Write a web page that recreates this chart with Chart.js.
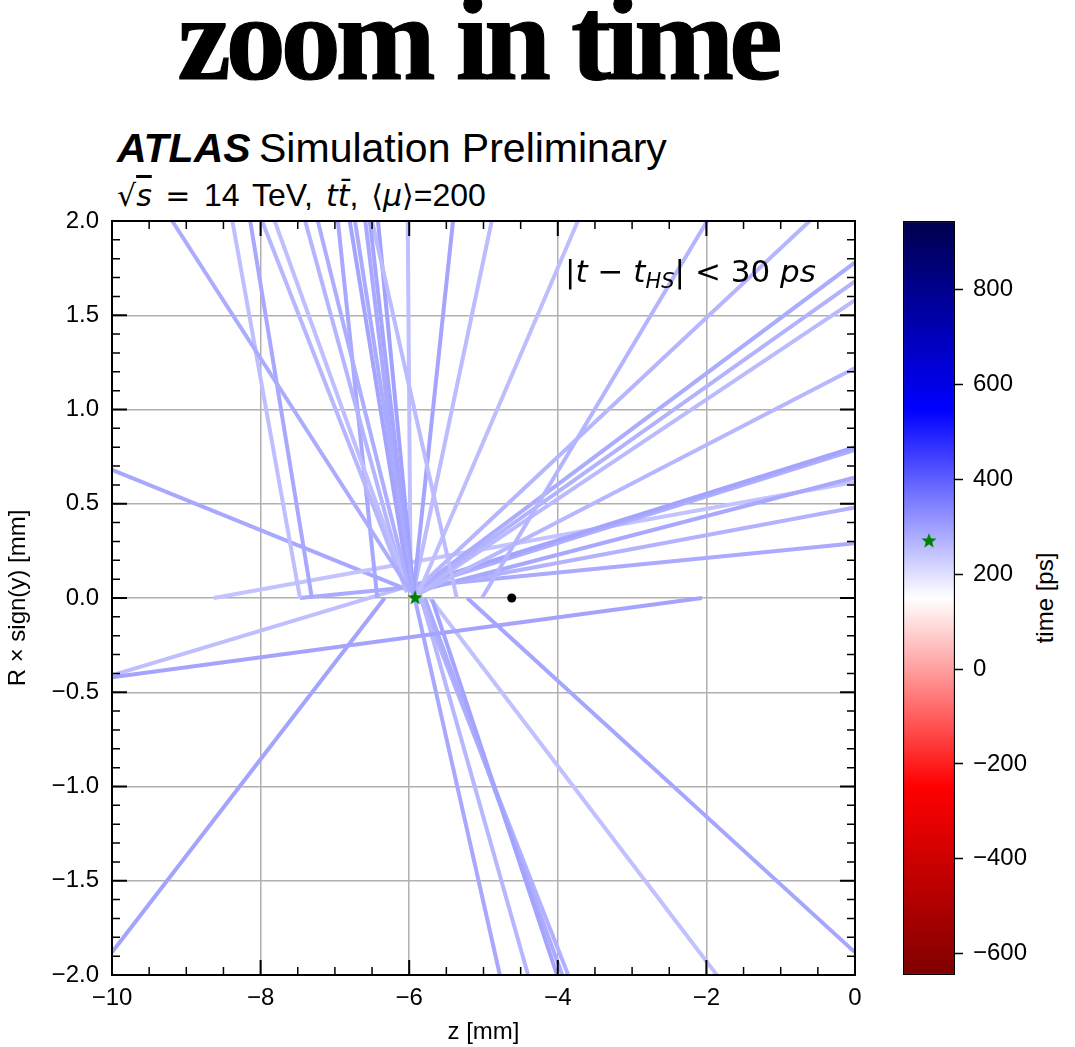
<!DOCTYPE html>
<html>
<head>
<meta charset="utf-8">
<script src="https://cdn.jsdelivr.net/npm/chart.js@4.4.1/dist/chart.umd.min.js"></script>
<style>
  body { margin: 0; background: #fff; width: 1075px; height: 1047px; position: relative; overflow: hidden;
         font-family: "Liberation Sans", Arial, sans-serif; color: #000; }
  #titulo { position: absolute; left: 0; width: 955px; top: -21px; text-align: center;
            font-family: "Liberation Serif", serif; font-weight: bold; font-size: 120px; line-height: 120px; letter-spacing: -5px;
            -webkit-text-stroke: 1.2px #000; }
  #atlas { position: absolute; left: 117px; top: 128px; font-size: 41px; line-height: 41px; white-space: nowrap; }
  #atlas b { font-style: italic; margin-right: -3px; }
  #energia { position: absolute; left: 117px; top: 179px; font-size: 32px; line-height: 32px; white-space: nowrap; word-spacing: 4px; }
  #energia .m { font-family: "DejaVu Sans", sans-serif; font-size: 30px; }
  #corte { position: absolute; left: 565px; top: 256px; font-family: "DejaVu Sans", sans-serif; font-size: 31px; line-height: 31px;
           white-space: nowrap; z-index: 2; }
  #corte sub { font-size: 21px; vertical-align: -6px; }
  #etiquetaColor { position: absolute; left: 1045px; top: 598px; font-size: 24px; white-space: nowrap;
                   transform: translate(-50%, -50%) rotate(-90deg); }
  #grafico { position: absolute; left: 0; top: 0; z-index: 1; }
  #barra { position: absolute; left: 880px; top: 0; z-index: 1; }
</style>
</head>
<body>
<div id="titulo">zoom in time</div>
<div id="atlas"><b>ATLAS</b> Simulation Preliminary</div>
<div id="energia"><span class="m">√<span style="text-decoration: overline;"><i>s</i></span> = </span>14 TeV, <span class="m"><i>t</i><i>t̄</i></span>, <span class="m">⟨<i>μ</i>⟩</span>=200</div>
<div id="corte">|<i>t</i> − <i>t</i><sub><i>HS</i></sub>| &lt; 30 <i>ps</i></div>
<div id="etiquetaColor">time [ps]</div>
<canvas id="grafico" width="880" height="1047"></canvas>
<canvas id="barra" width="195" height="1047"></canvas>
<script>
// trazas: punto de inicio (z, R) y punto final, en mm
const zInicio = [-5.99, -7.47, -7.31, -6.03, -6.02, -6.04, -5.99, -6.43, -5.99, -5.95,
                 -5.96, -5.36, -5.94, -5.98, -5.95, -5.96, -5.88, -5.02, -5.92, -6.00,
                 -5.91, -5.91, -5.88, -5.88, -5.92, -5.96, -5.85, -8.63, -5.99, -7.47,
                 -6.06, -2.06, -6.12, -6.33, -5.92, -5.83, -5.69, -5.79, -5.85, -5.72, -5.22];
const rInicio = [0.04, 0.00, 0.00, 0.03, 0.04, 0.04, 0.03, 0.00, 0.04, 0.03,
                 0.03, 0.00, 0.03, 0.03, 0.00, 0.00, 0.02, 0.00, 0.04, 0.04,
                 0.04, 0.03, 0.03, 0.02, 0.07, 0.05, 0.04, 0.00, 0.04, 0.00,
                 0.05, 0.00, 0.05, 0.00, -0.01, -0.01, -0.01, 0.00, 0.00, 0.00, 0.00];
const zFin = [-9.19, -8.38, -8.14, -7.98, -7.81, -7.40, -7.23, -6.96, -6.80, -6.73,
              -6.53, -6.50, -6.42, -6.02, -5.41, -4.89, -3.73, -1.99, -0.61, -6.59,
              0, 0, 0, 0, 0, 0, 0, 0, 0, 0,
              -10, -10, -10, -10, -4.78, -4.40, -4.01, -3.94, -3.86, -1.86, 0];
const rFin = [2, 2, 2, 2, 2, 2, 2, 2, 2, 2,
              2, 2, 2, 2, 2, 2, 2, 2, 2, 2,
              1.78, 1.68, 1.58, 1.22, 0.80, 0.785, 0.64, 0.615, 0.48, 0.29,
              0.68, -0.42, -0.41, -1.88, -2, -2, -2, -2, -2, -2, -1.88];
// tiempo de cada traza en ps
const tiempos = [280, 250, 285, 262, 250, 266, 276, 286, 292, 282,
                 290, 256, 296, 248, 290, 254, 252, 266, 264, 284,
                 280, 270, 258, 262, 292, 276, 286, 244, 270, 282,
                 286, 292, 250, 292, 286, 262, 292, 280, 272, 246, 288];

// vertice hard-scatter y el otro vertice
const zHS = -5.92, rHS = 0.0, tHS = 270;
const zOtro = -4.62, rOtro = 0.0;

// rango de la barra de color
const vMin = -645, vMax = 945;
const ticksColor = [-600, -400, -200, 0, 200, 400, 600, 800];

// mapa seismic invertido
const seismic = [[0, 0, 0.3], [0, 0, 1], [1, 1, 1], [1, 0, 0], [0.5, 0, 0]];
function colorMapa(p) {
  p = Math.min(1, Math.max(0, 1 - p));
  const s = p * 4, i = Math.min(3, Math.floor(s)), f = s - i;
  const a = seismic[i], b = seismic[i + 1];
  const c = a.map((v, k) => Math.round(255 * (v + (b[k] - v) * f)));
  return 'rgb(' + c[0] + ',' + c[1] + ',' + c[2] + ')';
}
function colorTiempo(t) { return colorMapa((t - vMin) / (vMax - vMin)); }

function menos(txt) { return String(txt).replace('-', '\u2212'); }

// estrella rellena para los vertices
function estrella(r, color) {
  const c = document.createElement('canvas');
  c.width = c.height = 2 * r + 2;
  const g = c.getContext('2d');
  g.fillStyle = color;
  g.beginPath();
  for (let k = 0; k < 10; k++) {
    const ang = -Math.PI / 2 + k * Math.PI / 5;
    const rr = k % 2 ? r * 0.42 : r;
    g.lineTo(r + 1 + rr * Math.cos(ang), r + 1 + rr * Math.sin(ang));
  }
  g.closePath();
  g.fill();
  return c;
}
const estrellaVerde = estrella(8, 'green');

const fuente = { family: '"Liberation Sans", Arial, sans-serif', size: 24 };

const datasets = [
  { data: [{ x: zHS, y: rHS }], pointStyle: estrellaVerde, showLine: false },
  { data: [{ x: zOtro, y: rOtro }], pointRadius: 4.5, pointBackgroundColor: '#000', pointBorderWidth: 0, showLine: false }
];
tiempos.forEach((t, i) => {
  datasets.push({
    data: [{ x: zInicio[i], y: rInicio[i] }, { x: zFin[i], y: rFin[i] }],
    showLine: true,
    borderColor: colorTiempo(t),
    borderWidth: 4,
    pointRadius: 0,
    clip: 0
  });
});

// marco y ticks hacia dentro en los cuatro lados
const marco = {
  id: 'marco',
  afterDatasetsDraw(chart) {
    const { ctx, chartArea: a, scales: { x, y } } = chart;
    ctx.save();
    ctx.strokeStyle = '#000';
    for (let k = 0; k <= 20; k++) {
      const px = x.getPixelForValue(-10 + k * 0.5);
      const largo = k % 4 === 0 ? 15 : 8;
      ctx.lineWidth = k % 4 === 0 ? 2 : 1.5;
      ctx.beginPath();
      ctx.moveTo(px, a.bottom); ctx.lineTo(px, a.bottom - largo);
      ctx.moveTo(px, a.top); ctx.lineTo(px, a.top + largo);
      ctx.stroke();
    }
    for (let k = 0; k <= 40; k++) {
      const py = y.getPixelForValue(-2 + k * 0.1);
      const largo = k % 5 === 0 ? 15 : 8;
      ctx.lineWidth = k % 5 === 0 ? 2 : 1.5;
      ctx.beginPath();
      ctx.moveTo(a.left, py); ctx.lineTo(a.left + largo, py);
      ctx.moveTo(a.right, py); ctx.lineTo(a.right - largo, py);
      ctx.stroke();
    }
    ctx.lineWidth = 2;
    ctx.strokeRect(a.left, a.top, a.right - a.left, a.bottom - a.top);
    ctx.restore();
  }
};

new Chart('grafico', {
  type: 'scatter',
  data: { datasets: datasets },
  options: {
    responsive: false,
    animation: false,
    layout: { padding: { top: 221, right: 25, left: 0, bottom: 0 } },
    plugins: { legend: { display: false }, tooltip: { enabled: false } },
    scales: {
      x: {
        type: 'linear', min: -10, max: 0,
        ticks: { stepSize: 2, color: '#000', font: fuente, padding: 9, maxRotation: 0, callback: v => menos(v) },
        grid: { color: '#b0b0b0', lineWidth: 1.5, drawTicks: false },
        border: { color: '#000', width: 2 },
        title: { display: true, text: 'z [mm]', color: '#000', font: fuente, padding: { top: 0, bottom: 0 } },
        afterFit: s => { s.height = 72; }
      },
      y: {
        type: 'linear', min: -2, max: 2,
        ticks: { stepSize: 0.5, color: '#000', font: fuente, padding: 13, callback: v => menos(v.toFixed(1)) },
        grid: { color: '#b0b0b0', lineWidth: 1.5, drawTicks: false },
        border: { color: '#000', width: 2 },
        title: { display: true, text: 'R × sign(y) [mm]', color: '#000', font: fuente, padding: { top: 4, bottom: 0 } },
        afterFit: s => { s.width = 112; }
      }
    }
  },
  plugins: [marco]
});

// barra de color con el tiempo del vertice HS
function degradado(ctx) {
  const chart = ctx.chart;
  if (!chart.chartArea) return null;
  const y = chart.scales.y;
  const g = chart.ctx.createLinearGradient(0, y.getPixelForValue(vMin), 0, y.getPixelForValue(vMax));
  for (let k = 0; k <= 4; k++) g.addColorStop(k / 4, colorMapa(k / 4));
  return g;
}

new Chart('barra', {
  type: 'bar',
  data: {
    labels: ['time'],
    datasets: [
      { type: 'line', data: [tHS], pointStyle: estrellaVerde, showLine: false },
      { data: [[vMin, vMax]], backgroundColor: degradado, borderColor: '#000', borderWidth: 1.5,
        borderSkipped: false, barPercentage: 1, categoryPercentage: 1 }
    ]
  },
  options: {
    responsive: false,
    animation: false,
    layout: { padding: { top: 221, left: 23, bottom: 72, right: 0 } },
    plugins: { legend: { display: false }, tooltip: { enabled: false } },
    scales: {
      x: { display: false },
      y: {
        position: 'right', min: vMin, max: vMax,
        afterBuildTicks: s => { s.ticks = ticksColor.map(v => ({ value: v })); },
        ticks: { color: '#000', font: fuente, padding: 10, callback: v => menos(v) },
        grid: { drawOnChartArea: false, drawTicks: true, tickLength: 8, tickColor: '#000', tickWidth: 1.5 },
        border: { display: false },
        afterFit: s => { s.width = 120; }
      }
    }
  }
});
</script>
</body>
</html>
